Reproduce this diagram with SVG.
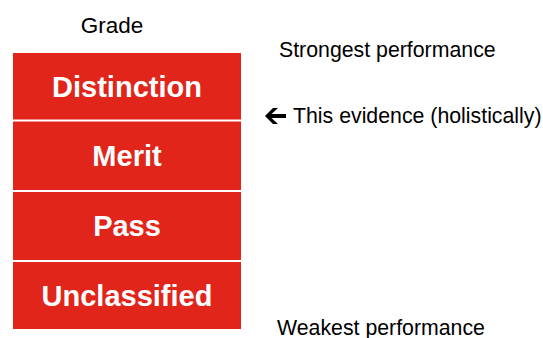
<svg xmlns="http://www.w3.org/2000/svg" width="543" height="338" viewBox="0 0 543 338">
<style>
.box{fill:#E1251B}
.bt{font-family:"Liberation Sans",Arial,sans-serif;font-weight:bold;font-size:29px;fill:#fff;text-anchor:middle}
.t{font-family:"Liberation Sans",Arial,sans-serif;font-size:21.3px;fill:#000}
</style>
<rect width="543" height="338" fill="#fff"/>
<text class="t" x="112" y="33" text-anchor="middle" style="font-size:22.5px">Grade</text>
<g id="distinction"><rect class="box" x="13" y="53" width="228" height="66.5"/><text class="bt" x="127" y="96.5">Distinction</text></g>
<g id="merit"><rect class="box" x="13" y="121.5" width="228" height="68.5"/><text class="bt" x="127" y="166">Merit</text></g>
<g id="pass"><rect class="box" x="13" y="192" width="228" height="68"/><text class="bt" x="127" y="235.5">Pass</text></g>
<g id="unclassified"><rect class="box" x="13" y="262" width="228" height="67"/><text class="bt" x="127" y="305.5">Unclassified</text></g>
<text class="t" x="279" y="57">Strongest performance</text>
<g id="arrow"><path d="M265,116 L273,108 L278,108 L271.5,114 L286,114 L286,118 L271.5,118 L278,124 L273,124 Z" fill="#000"/></g>
<text class="t" x="293" y="123">This evidence (holistically)</text>
<text class="t" x="277" y="334.5">Weakest performance</text>
</svg>
